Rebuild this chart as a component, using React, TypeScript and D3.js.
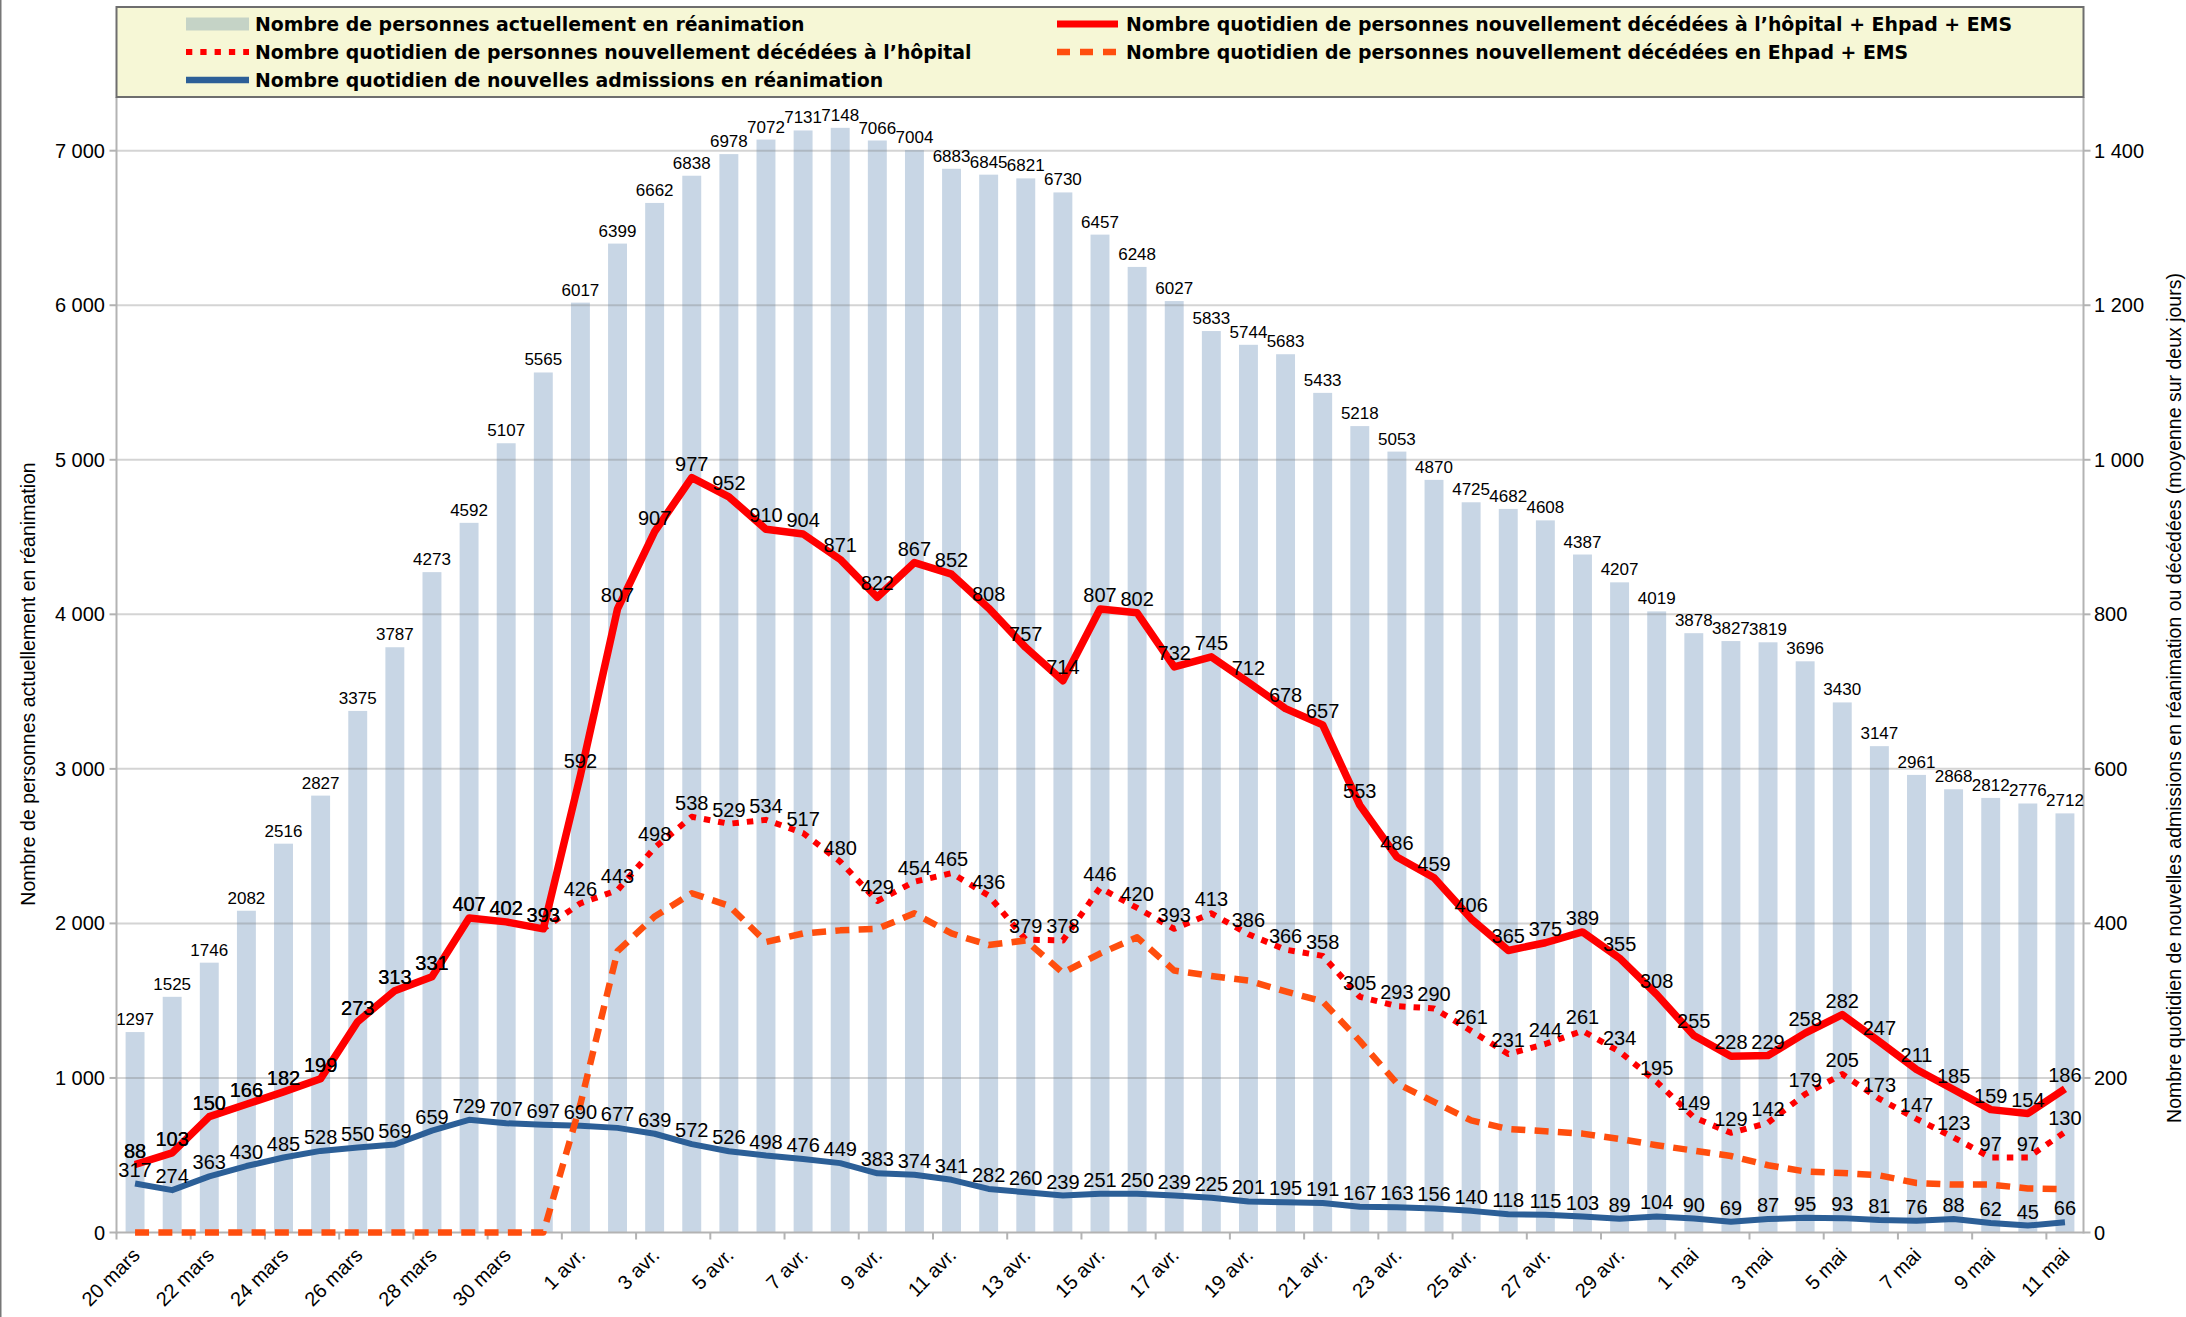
import React from 'react';
import * as d3 from 'd3';

// dates (one per day, 20 mars -> 11 mai)
const days = [
  '20 mars', '21 mars', '22 mars', '23 mars', '24 mars', '25 mars', '26 mars', '27 mars', '28 mars', '29 mars', '30 mars', '31 mars',
  '1 avr.', '2 avr.', '3 avr.', '4 avr.', '5 avr.', '6 avr.', '7 avr.', '8 avr.', '9 avr.', '10 avr.', '11 avr.', '12 avr.', '13 avr.', '14 avr.', '15 avr.',
  '16 avr.', '17 avr.', '18 avr.', '19 avr.', '20 avr.', '21 avr.', '22 avr.', '23 avr.', '24 avr.', '25 avr.', '26 avr.', '27 avr.', '28 avr.', '29 avr.', '30 avr.',
  '1 mai', '2 mai', '3 mai', '4 mai', '5 mai', '6 mai', '7 mai', '8 mai', '9 mai', '10 mai', '11 mai',
];

// personnes actuellement en réanimation (bars, left axis)
const reanimation = [
  1297, 1525, 1746, 2082, 2516, 2827, 3375, 3787, 4273, 4592, 5107, 5565,
  6017, 6399, 6662, 6838, 6978, 7072, 7131, 7148, 7066, 7004, 6883, 6845, 6821, 6730, 6457,
  6248, 6027, 5833, 5744, 5683, 5433, 5218, 5053, 4870, 4725, 4682, 4608, 4387, 4207, 4019,
  3878, 3827, 3819, 3696, 3430, 3147, 2961, 2868, 2812, 2776, 2712,
];

// décès hôpital + Ehpad + EMS (right axis)
const decesTotal = [
  88, 103, 150, 166, 182, 199, 273, 313, 331, 407, 402, 393,
  592, 807, 907, 977, 952, 910, 904, 871, 822, 867, 852, 808, 757, 714, 807,
  802, 732, 745, 712, 678, 657, 553, 486, 459, 406, 365, 375, 389, 355, 308,
  255, 228, 229, 258, 282, 247, 211, 185, 159, 154, 186,
];

// décès à l'hôpital (right axis)
const decesHopital = [
  88, 103, 150, 166, 182, 199, 273, 313, 331, 407, 402, 393,
  426, 443, 498, 538, 529, 534, 517, 480, 429, 454, 465, 436, 379, 378, 446,
  420, 393, 413, 386, 366, 358, 305, 293, 290, 261, 231, 244, 261, 234, 195,
  149, 129, 142, 179, 205, 173, 147, 123, 97, 97, 130,
];

// décès en Ehpad + EMS (right axis, no labels)
const decesEhpad = [
  0, 0, 0, 0, 0, 0, 0, 0, 0, 0, 0, 0,
  166, 364, 409, 439, 423, 376, 387, 391, 393, 413, 387, 372, 378, 336, 361,
  382, 339, 332, 326, 312, 299, 248, 193, 169, 145, 134, 131, 128, 121, 113,
  106, 99, 87, 79, 77, 74, 64, 62, 62, 57, 56,
];

// nouvelles admissions en réanimation (left axis)
const admissions = [
  317, 274, 363, 430, 485, 528, 550, 569, 659, 729, 707, 697,
  690, 677, 639, 572, 526, 498, 476, 449, 383, 374, 341, 282, 260, 239, 251,
  250, 239, 225, 201, 195, 191, 167, 163, 156, 140, 118, 115, 103, 89, 104,
  90, 69, 87, 95, 93, 81, 76, 88, 62, 45, 66,
];

const leftTicks = [0, 1000, 2000, 3000, 4000, 5000, 6000, 7000];
const rightTicks = [0, 200, 400, 600, 800, 1000, 1200, 1400];

const W = 2186;
const H = 1317;
const FONT = '"Liberation Sans", Arial, sans-serif';
const LEGEND_FONT = '"DejaVu Sans", sans-serif';

const fr = d3.formatLocale({ decimal: ',', thousands: '\u00a0', grouping: [3], currency: ['', ' €'] });
const fmt = fr.format(',');

export default function App() {
  const left = 116.5, right = 2083.5, top = 97, bottom = 1232.5;

  const x = d3.scaleBand<string>().domain(days).range([left, right]).paddingInner(0);
  const bw = x.bandwidth();
  const cx = (i: number) => (x(days[i]) as number) + bw / 2;
  const yL = d3.scaleLinear().domain([0, 7000]).range([bottom, 150.7]);
  const yR = d3.scaleLinear().domain([0, 1400]).range([bottom, 150.7]);

  const lineR = d3.line<number>().x((_, i) => cx(i)).y(d => yR(d));
  const lineL = d3.line<number>().x((_, i) => cx(i)).y(d => yL(d));

  const barW = bw * 0.51;

  const lineLabels = (vals: number[], y: (v: number) => number, key: string) =>
    vals.map((v, i) => (
      <text key={key + i} x={cx(i)} y={y(v) - 7} textAnchor="middle" fontSize={20} fill="#000">{v}</text>
    ));

  const legend = [
    { col: 0, row: 0, kind: 'bar', text: 'Nombre de personnes actuellement en réanimation' },
    { col: 1, row: 0, kind: 'solid', text: 'Nombre quotidien de personnes nouvellement décédées à l’hôpital + Ehpad + EMS' },
    { col: 0, row: 1, kind: 'dot', text: 'Nombre quotidien de personnes nouvellement décédées à l’hôpital' },
    { col: 1, row: 1, kind: 'dash', text: 'Nombre quotidien de personnes nouvellement décédées en Ehpad + EMS' },
    { col: 0, row: 2, kind: 'blue', text: 'Nombre quotidien de nouvelles admissions en réanimation' },
  ];
  const legX = [186, 1057];
  const legY = [24, 52, 80];

  return (
    <div>
      <style>{'body{margin:0}'}</style>
      <svg width={W} height={H} style={{ display: 'block', fontFamily: FONT }}>
        <rect x={0} y={0} width={W} height={H} fill="#fff" />
        <line x1={0.75} x2={0.75} y1={0} y2={H} stroke="#777" strokeWidth={1.5} />

        {/* bars */}
        {reanimation.map((v, i) => (
          <rect key={'b' + i} x={cx(i) - barW / 2} y={yL(v)} width={barW} height={bottom - yL(v)} fill="#c8d6e5" />
        ))}

        {/* gridlines */}
        {leftTicks.slice(1).map(t => (
          <line key={'g' + t} x1={left} x2={right} y1={yL(t)} y2={yL(t)} stroke="rgba(120,120,120,0.32)" strokeWidth={2} />
        ))}

        {/* axes */}
        <line x1={left} x2={left} y1={top} y2={bottom + 1} stroke="#b3b3b3" strokeWidth={2} />
        <line x1={right} x2={right} y1={top} y2={bottom + 1} stroke="#b3b3b3" strokeWidth={2} />
        <line x1={left} x2={right} y1={bottom} y2={bottom} stroke="#b3b3b3" strokeWidth={2} />
        {leftTicks.map(t => (
          <g key={'lt' + t}>
            <line x1={left - 7} x2={left} y1={yL(t)} y2={yL(t)} stroke="#b3b3b3" strokeWidth={2} />
            <text x={105} y={yL(t) + 7} textAnchor="end" fontSize={20} fill="#000">{fmt(t)}</text>
          </g>
        ))}
        {rightTicks.map(t => (
          <g key={'rt' + t}>
            <line x1={right} x2={right + 7} y1={yR(t)} y2={yR(t)} stroke="#b3b3b3" strokeWidth={2} />
            <text x={2094} y={yR(t) + 7} textAnchor="start" fontSize={20} fill="#000">{fmt(t)}</text>
          </g>
        ))}
        {days.map((d, i) => i % 2 === 0 ? (
          <g key={'xt' + i}>
            <line x1={x(d) as number} x2={x(d) as number} y1={bottom} y2={bottom + 7} stroke="#b3b3b3" strokeWidth={2} />
            <text transform={`translate(${cx(i) + 6},${bottom + 24}) rotate(-45)`} textAnchor="end" fontSize={20} fill="#000">{d}</text>
          </g>
        ) : null)}

        {/* lines */}
        <path d={lineL(admissions) as string} fill="none" stroke="#2c5f97" strokeWidth={6} strokeLinejoin="round" />
        <path d={lineR(decesHopital) as string} fill="none" stroke="#ff0000" strokeWidth={6} strokeDasharray="6.5,8" strokeLinejoin="round" />
        <path d={lineR(decesEhpad) as string} fill="none" stroke="#ff4e0e" strokeWidth={6.5} strokeDasharray="14,9.3" strokeLinejoin="round" />
        <path d={lineR(decesTotal) as string} fill="none" stroke="#ff0000" strokeWidth={7.5} strokeLinejoin="round" />

        {/* labels */}
        {reanimation.map((v, i) => (
          <text key={'bl' + i} x={cx(i)} y={yL(v) - 7} textAnchor="middle" fontSize={17} fill="#000">{v}</text>
        ))}
        {lineLabels(admissions, yL, 'al')}
        {lineLabels(decesHopital, yR, 'hl')}
        {lineLabels(decesTotal, yR, 'tl')}

        {/* axis titles */}
        <text transform={`translate(35,684) rotate(-90)`} textAnchor="middle" fontSize={19.5} fill="#000">
          Nombre de personnes actuellement en réanimation
        </text>
        <text transform={`translate(2181,698) rotate(-90)`} textAnchor="middle" fontSize={19.5} fill="#000">
          Nombre quotidien de nouvelles admissions en réanimation ou décédées (moyenne sur deux jours)
        </text>

        {/* legend */}
        <rect x={left} y={7} width={right - left} height={top - 7} fill="#f6f7d6" stroke="#6e6e6e" strokeWidth={2} />
        {legend.map((l, k) => {
          const sx = legX[l.col];
          const sy = legY[l.row];
          let sw: React.ReactNode = null;
          if (l.kind === 'bar') sw = <rect x={sx} y={sy - 6.5} width={63} height={13} fill="#c5d3c6" />;
          if (l.kind === 'solid') sw = <line x1={sx} x2={sx + 61} y1={sy} y2={sy} stroke="#ff0000" strokeWidth={7} />;
          if (l.kind === 'dot') sw = <line x1={sx} x2={sx + 63} y1={sy} y2={sy} stroke="#ff0000" strokeWidth={6} strokeDasharray="6.3,8" />;
          if (l.kind === 'dash') sw = <line x1={sx} x2={sx + 61} y1={sy} y2={sy} stroke="#ff4e0e" strokeWidth={6.5} strokeDasharray="13,10" />;
          if (l.kind === 'blue') sw = <line x1={sx} x2={sx + 63} y1={sy} y2={sy} stroke="#2c5f97" strokeWidth={6.5} />;
          return (
            <g key={'lg' + k}>
              {sw}
              <text x={sx + 69} y={sy + 6.5} fontSize={18.9} fontWeight="bold" fontFamily={LEGEND_FONT} fill="#000">{l.text}</text>
            </g>
          );
        })}
      </svg>
    </div>
  );
}
